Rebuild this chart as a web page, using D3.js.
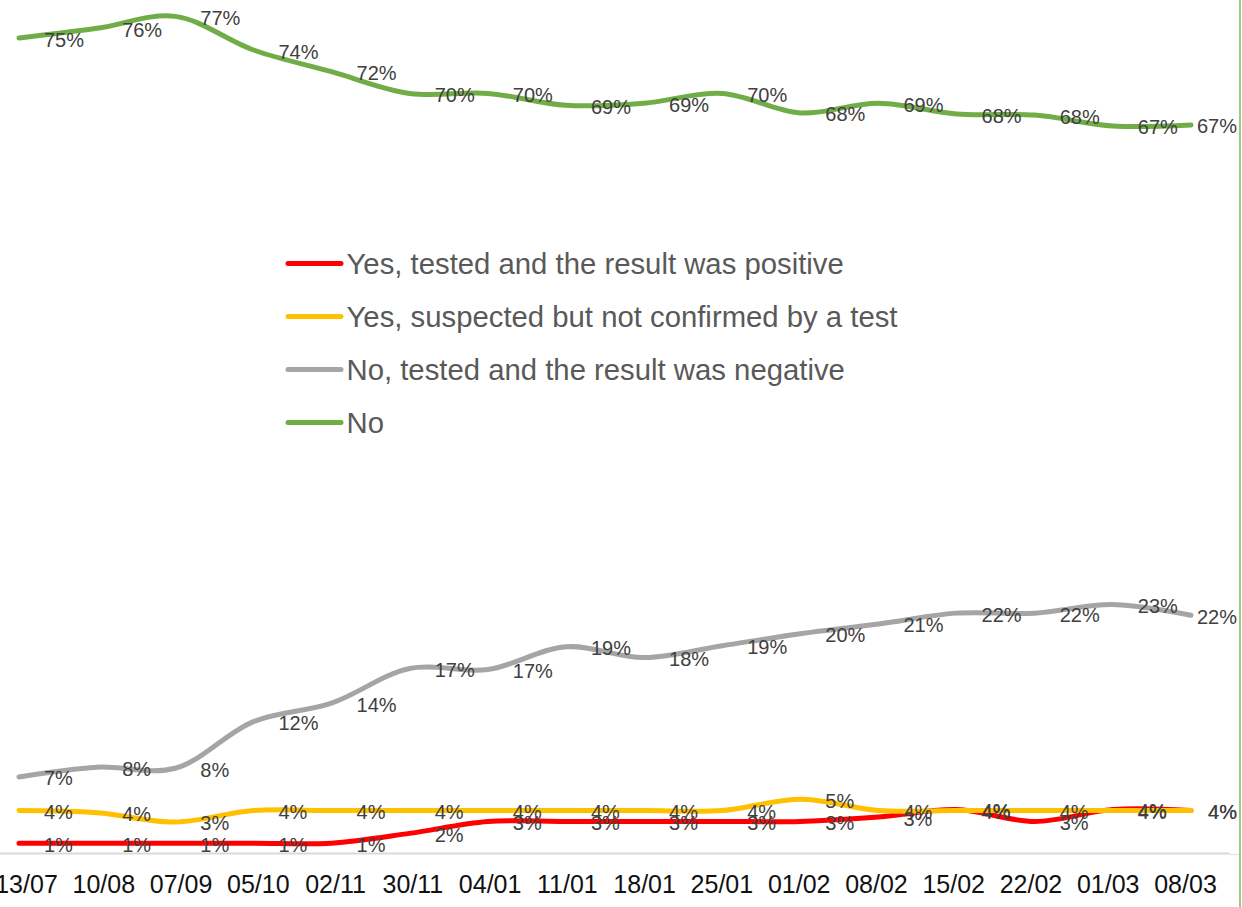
<!DOCTYPE html>
<html>
<head>
<meta charset="utf-8">
<script src="https://cdn.jsdelivr.net/npm/d3@7"></script>
<style>
  html, body { margin: 0; padding: 0; background: #fff; overflow: hidden; }
  svg { display: block; font-family: "Liberation Sans", Arial, sans-serif; }
</style>
</head>
<body>
<svg id="chart" width="1242" height="907"></svg>
<script>
const categories = ["13/07","10/08","07/09","05/10","02/11","30/11","04/01","11/01","18/01","25/01","01/02","08/02","15/02","22/02","01/03","08/03"];
const positive  = [1.0, 1.0, 1.0, 1.0, 1.0, 1.9, 3.0, 3.0, 3.0, 3.0, 3.0, 3.4, 4.1, 3.0, 4.1, 4.0];
const suspected = [4.0, 3.8, 2.95, 4.0, 4.0, 4.0, 4.0, 4.0, 4.0, 4.0, 5.05, 4.0, 4.0, 4.0, 4.0, 4.0];
const negative  = [7.1, 8.0, 7.9, 12.2, 13.9, 17.1, 17.0, 19.1, 18.1, 19.2, 20.3, 21.2, 22.2, 22.2, 23.0, 22.0];
const noCovid   = [75.2, 76.1, 77.2, 74.1, 72.1, 70.1, 70.1, 69.0, 69.2, 70.1, 68.3, 69.2, 68.2, 68.1, 67.1, 67.2];
const seriesNames = ["Yes, tested and the result was positive", "Yes, suspected but not confirmed by a test", "No, tested and the result was negative", "No"];
const seriesColors = ["#FF0000", "#FFC000", "#A5A5A5", "#70AD47"];

const series = [positive, suspected, negative, noCovid].map((vals, k) => ({
  name: seriesNames[k], color: seriesColors[k],
  values: vals.map((v, i) => ({ cat: categories[i], v }))
}));

const svg = d3.select("#chart");

const x = d3.scalePoint().domain(categories).range([19, 1191]);
const xTicks = d3.scalePoint().domain(categories).range([26, 1185]);
const y = d3.scaleLinear().domain([0, 80]).range([854, 854 - 80 * 10.85]);

// right border line
svg.append("line").attr("x1", 1240).attr("x2", 1240).attr("y1", 0).attr("y2", 907)
  .attr("stroke", "#9CCB82").attr("stroke-width", 2);

// category axis line
svg.append("line").attr("x1", 0).attr("x2", 1229).attr("y1", 853.5).attr("y2", 853.5)
  .attr("stroke", "#D9D9D9").attr("stroke-width", 2);
svg.append("line").attr("x1", 1229).attr("x2", 1239).attr("y1", 854.5).attr("y2", 854.5)
  .attr("stroke", "#E6E6E6").attr("stroke-width", 1.5);

// tick labels
const axis = d3.axisBottom(xTicks).tickSize(0).tickPadding(0);
const ag = svg.append("g").attr("transform", "translate(0,875)").call(axis);
ag.select(".domain").remove();
ag.selectAll("text").attr("font-size", 25).attr("fill", "#111")
  .attr("font-family", "Liberation Sans, Arial, sans-serif");

// lines
const line = d3.line().x(d => x(d.cat)).y(d => y(d.v)).curve(d3.curveCatmullRom.alpha(0.5));
svg.append("g").selectAll("path").data(series).join("path")
  .attr("d", s => line(s.values))
  .attr("fill", "none")
  .attr("stroke", s => s.color)
  .attr("stroke-width", 5)
  .attr("stroke-linecap", "round")
  .attr("stroke-linejoin", "round");

// data labels
const lg = svg.append("g").attr("font-size", 20).attr("fill", "#404040");
series.forEach(s => {
  s.values.forEach(d => {
    const t = lg.append("text")
      .attr("x", x(d.cat) + 25)
      .attr("y", y(d.v) + 8.5)
      .text(Math.round(d.v) + "%");
    const w = t.node().getComputedTextLength();
    if (x(d.cat) + 25 + w > 1237) t.attr("x", 1237 - w);
  });
});

// legend
const legendY = d3.scalePoint().domain(seriesNames).range([263.5, 422.5]);
const leg = svg.append("g");
series.forEach(s => {
  const yy = legendY(s.name);
  leg.append("line").attr("x1", 288).attr("x2", 341).attr("y1", yy).attr("y2", yy)
    .attr("stroke", s.color).attr("stroke-width", 5).attr("stroke-linecap", "round");
  leg.append("text").attr("x", 346.5).attr("y", yy + 10).attr("font-size", 29.3)
    .attr("fill", "#595959").text(s.name);
});
</script>
</body>
</html>
